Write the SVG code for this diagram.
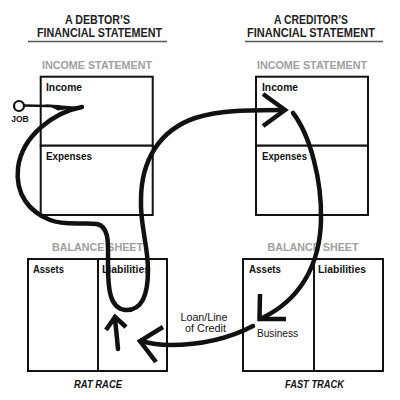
<svg xmlns="http://www.w3.org/2000/svg" width="400" height="400" viewBox="0 0 400 400">
<style>
.title{font-family:"Liberation Sans",Arial,sans-serif;font-weight:bold;font-size:12.5px;fill:#222;text-anchor:middle}
.sect{font-family:"Liberation Sans",Arial,sans-serif;font-weight:bold;font-size:11.5px;fill:#a0a0a0;text-anchor:middle}
.lbl{font-family:"Liberation Sans",Arial,sans-serif;font-weight:bold;font-size:11px;fill:#111}
.note{font-family:"Liberation Sans",Arial,sans-serif;font-size:10.5px;fill:#111}
.loan{font-family:"Liberation Sans",Arial,sans-serif;font-size:10px;fill:#111;text-anchor:middle}
.foot{font-family:"Liberation Sans",Arial,sans-serif;font-weight:bold;font-style:italic;font-size:11.5px;fill:#111;text-anchor:middle}
.box{fill:#fff;stroke:#111;stroke-width:2}
.rule{stroke:#555;stroke-width:1.6}
.flow{fill:none;stroke:#111;stroke-width:4.5;stroke-linecap:round;stroke-linejoin:round}
.head{fill:none;stroke:#111;stroke-width:4.5;stroke-linecap:butt;stroke-linejoin:miter}
</style>
<rect width="400" height="400" fill="#fff"/>

<g id="debtor-title">
<text class="title" x="97.5" y="24" textLength="65" lengthAdjust="spacingAndGlyphs">A DEBTOR’S</text>
<text class="title" x="99.5" y="37" textLength="125" lengthAdjust="spacingAndGlyphs">FINANCIAL STATEMENT</text>
<line class="rule" x1="28" y1="41.5" x2="167" y2="41.5"/>
</g>
<g id="creditor-title">
<text class="title" x="311" y="24" textLength="74" lengthAdjust="spacingAndGlyphs">A CREDITOR’S</text>
<text class="title" x="311" y="37" textLength="128" lengthAdjust="spacingAndGlyphs">FINANCIAL STATEMENT</text>
<line class="rule" x1="245" y1="41.5" x2="383" y2="41.5"/>
</g>

<g id="debtor-income-statement">
<text class="sect" x="97" y="68.5" textLength="110" lengthAdjust="spacingAndGlyphs">INCOME STATEMENT</text>
<rect class="box" x="40.7" y="76.7" width="112" height="69"/>
<rect class="box" x="40.7" y="145.7" width="112" height="69.3"/>
<text class="lbl" x="46" y="91" textLength="36" lengthAdjust="spacingAndGlyphs">Income</text>
<text class="lbl" x="46" y="160" textLength="46" lengthAdjust="spacingAndGlyphs">Expenses</text>
</g>

<g id="creditor-income-statement">
<text class="sect" x="312" y="68.5" textLength="110" lengthAdjust="spacingAndGlyphs">INCOME STATEMENT</text>
<rect class="box" x="256" y="76.7" width="112" height="69"/>
<rect class="box" x="256" y="145.7" width="112" height="69.3"/>
<text class="lbl" x="262" y="91" textLength="36" lengthAdjust="spacingAndGlyphs">Income</text>
<text class="lbl" x="262" y="160" textLength="45" lengthAdjust="spacingAndGlyphs">Expenses</text>
</g>

<g id="debtor-balance-sheet">
<text class="sect" x="97.5" y="251" textLength="91" lengthAdjust="spacingAndGlyphs">BALANCE SHEET</text>
<rect class="box" x="28" y="259" width="70" height="112"/>
<rect class="box" x="98" y="259" width="69" height="112"/>
<text class="lbl" x="33" y="273" textLength="31" lengthAdjust="spacingAndGlyphs">Assets</text>
<text class="lbl" x="102" y="273" textLength="48" lengthAdjust="spacingAndGlyphs">Liabilities</text>
<text class="foot" x="98" y="388" textLength="48" lengthAdjust="spacingAndGlyphs">RAT RACE</text>
</g>

<g id="creditor-balance-sheet">
<text class="sect" x="313" y="251" textLength="91" lengthAdjust="spacingAndGlyphs">BALANCE SHEET</text>
<rect class="box" x="243" y="259" width="71" height="112"/>
<rect class="box" x="314" y="259" width="69" height="112"/>
<text class="lbl" x="249" y="273" textLength="32" lengthAdjust="spacingAndGlyphs">Assets</text>
<text class="lbl" x="318" y="273" textLength="48" lengthAdjust="spacingAndGlyphs">Liabilities</text>
<text class="note" x="257" y="337" textLength="41" lengthAdjust="spacingAndGlyphs">Business</text>
<text class="foot" x="314.5" y="388" textLength="59" lengthAdjust="spacingAndGlyphs">FAST TRACK</text>
</g>

<g id="job">
<circle cx="19" cy="106" r="5" fill="#fff" stroke="#111" stroke-width="2.2"/>
<text x="20" y="122" font-family="Liberation Sans,Arial,sans-serif" font-weight="bold" font-size="8.5" fill="#111" text-anchor="middle">JOB</text>
</g>

<g id="loan-label">
<text class="loan" x="204" y="320.5" textLength="47" lengthAdjust="spacingAndGlyphs">Loan/Line</text>
<text class="loan" x="205.5" y="332" textLength="41" lengthAdjust="spacingAndGlyphs">of Credit</text>
</g>

<g id="connectors">
<path d="M24,105.5 L60,106.3" fill="none" stroke="#111" stroke-width="2.4"/>
<path d="M45,104.2 L82,107 L58,110.5 Z" fill="#111"/>
<path class="flow" d="M82,107 C55,112 22,135 18,168 C15,195 30,212 50,220 C65,226 85,222 97,224 C110,227 108,245 108,265 C108,290 110,308 125,310 C142,311 148,295 148,270 C148,245 140,225 141,200 C141,160 160,130 195,118 C220,110 250,110 284,110"/>
<polyline class="head" points="263,94 285,110 263,126"/>
<path class="flow" d="M293,113 C310,135 322,180 321,220 C320,265 300,300 262,318"/>
<polyline class="head" points="260,294 259.5,319 286,319"/>
<path class="flow" d="M253,326 C230,338 200,345 170,345 C155,345 148,343 141,341"/>
<polyline class="head" points="163,327 140,341 156,362"/>
<path class="flow" d="M118,349 C117,338 116,328 115,319"/>
<polyline class="head" points="106,330 115,317 126,327"/>
</g>
</svg>
